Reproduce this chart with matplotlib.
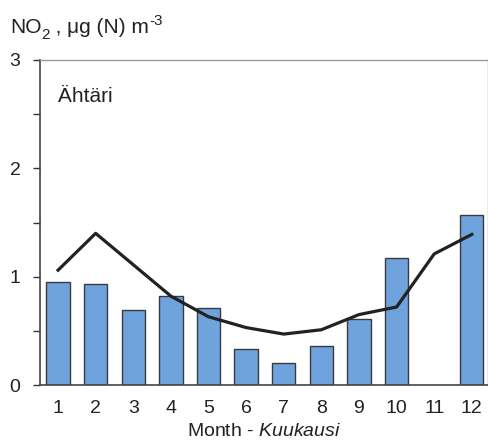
import numpy as np
import matplotlib
matplotlib.use("Agg")
import matplotlib.pyplot as plt
from matplotlib.ticker import MultipleLocator
from matplotlib.transforms import IdentityTransform

plt.rcParams['font.family'] = ['Liberation Sans', 'DejaVu Sans']
plt.rcParams['mathtext.fontset'] = 'custom'
plt.rcParams['mathtext.rm'] = 'Liberation Sans'
plt.rcParams['mathtext.it'] = 'Liberation Sans:italic'
plt.rcParams['mathtext.default'] = 'regular'

# monthly NO2 at Ähtäri (bars) and long-term mean (line)
months = np.arange(1, 13)
month_labels = [str(m) for m in months]
monthly_no2 = [0.95, 0.93, 0.69, 0.82, 0.71, 0.33, 0.20, 0.36, 0.61, 1.17, np.nan, 1.57]
mean_no2 = [1.06, 1.40, 1.11, 0.82, 0.63, 0.53, 0.47, 0.51, 0.65, 0.72, 1.21, 1.39]

W, H = 489, 441
fig = plt.figure(figsize=(W / 100, H / 100), dpi=100)
ax = fig.add_axes([40 / W, 56 / H, 448 / W, 325 / H])

ax.bar(months, monthly_no2, width=0.62, color='#6FA3DE', edgecolor='#3a3a3a', linewidth=1.0, zorder=2)
ax.plot(months, mean_no2, color='#222222', linewidth=2.3, zorder=3)

ax.set_xlim(0.52, 12.43)
ax.set_ylim(0, 3)
ax.set_xticks(months)
ax.set_xticklabels(month_labels)
ax.yaxis.set_major_locator(MultipleLocator(1))
ax.yaxis.set_minor_locator(MultipleLocator(0.5))
ax.tick_params(axis='x', length=0, pad=11, labelsize=14, colors='#222222')
ax.tick_params(axis='y', which='both', direction='out', length=5, width=1, pad=9,
               labelsize=14, colors='#333333', labelcolor='#222222')

for side in ['left', 'bottom']:
    ax.spines[side].set_color('#444444')
    ax.spines[side].set_linewidth(1.2)
for side in ['top', 'right']:
    ax.spines[side].set_color('#999999')
    ax.spines[side].set_linewidth(1.0)

ax.set_xlabel(r'Month - $\it{Kuukausi}$', fontsize=14, color='#222222', labelpad=4)
ax.text(0.04, 0.87, 'Ähtäri', transform=ax.transAxes, fontsize=15, color='#222222', va='baseline')

# unit label built piece by piece (subscript 2, superscript -3)
renderer = fig.canvas.get_renderer()
x, base = 10, H - 33
pieces = [('NO', 0, 15), ('2', -6, 11), (' , μg (N) m', 0, 15), ('-3', 8, 11)]
for s, dy, fs in pieces:
    t = fig.text(x, base + dy, s, fontsize=fs, color='#222222', va='baseline',
                 transform=IdentityTransform())
    x = t.get_window_extent(renderer).x1

fig.savefig('out.png', dpi=100)
